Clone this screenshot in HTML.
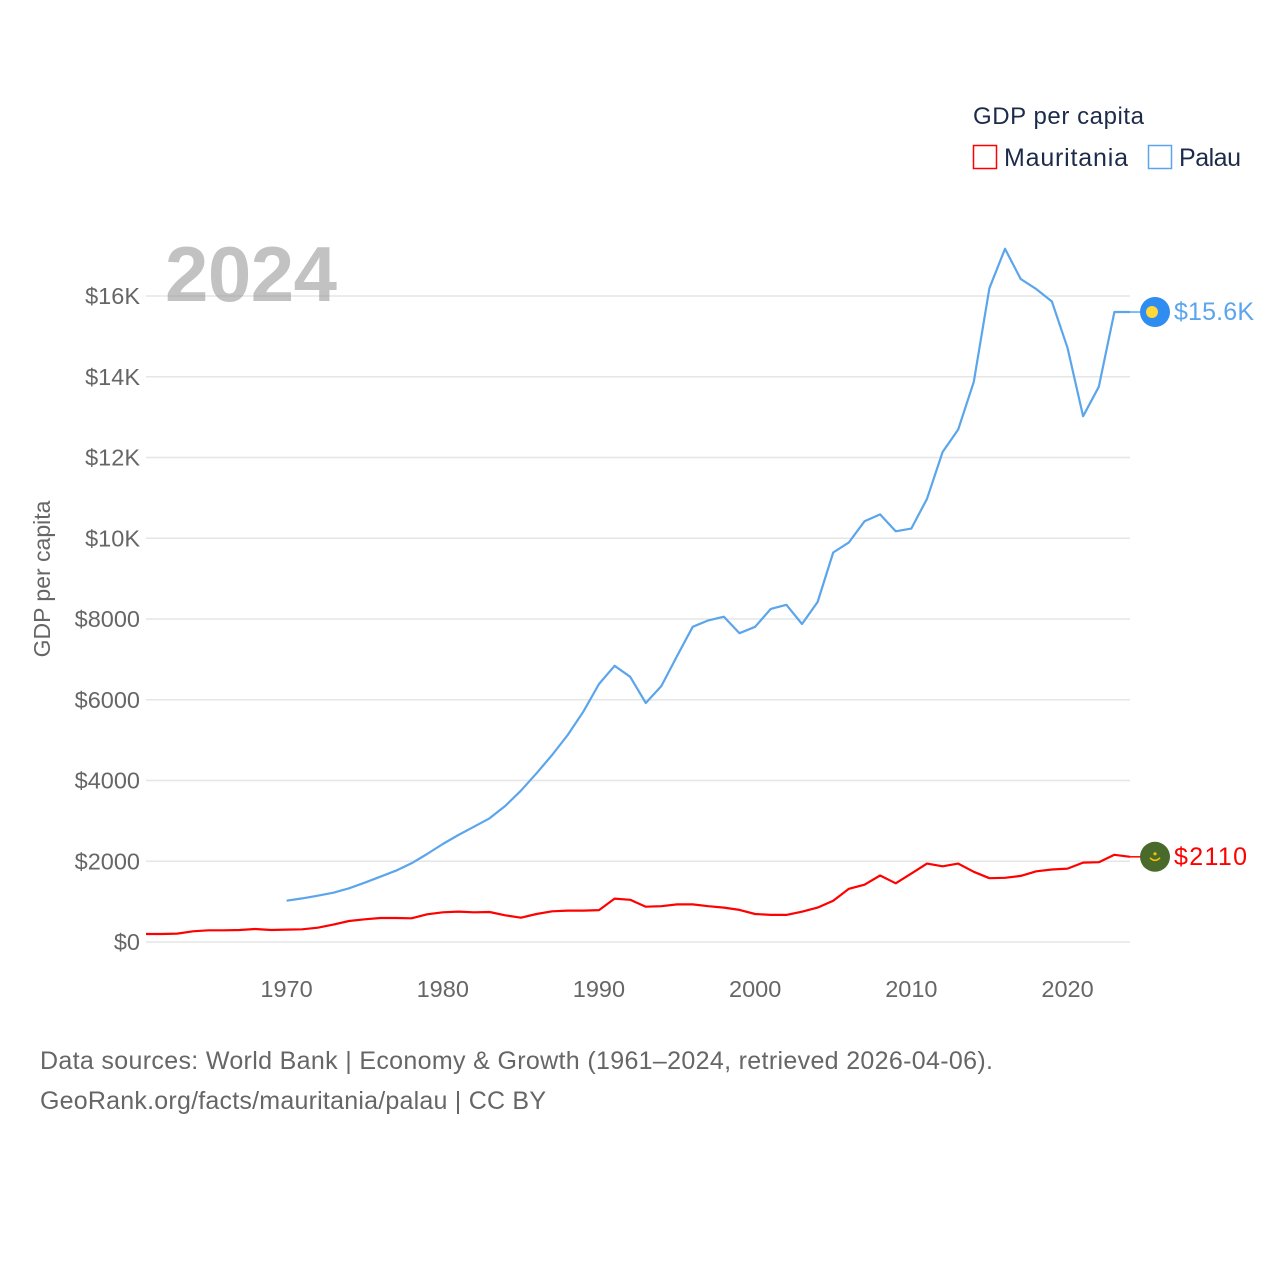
<!DOCTYPE html>
<html><head><meta charset="utf-8"><style>
html,body{margin:0;padding:0;background:#fff;}
body{width:1280px;height:1280px;overflow:hidden;font-family:"Liberation Sans",sans-serif;}
</style></head><body>
<svg id="chart" width="1280" height="1280" xmlns="http://www.w3.org/2000/svg" font-family="Liberation Sans, sans-serif">
  <text x="973" y="124" font-size="24" fill="#1d2b4a" textLength="171">GDP per capita</text>
  <rect x="973.5" y="145.5" width="23" height="23" fill="none" stroke="#ff0000" stroke-width="1.5"/>
  <text x="1004" y="166" font-size="25" fill="#1d2b4a" textLength="124">Mauritania</text>
  <rect x="1148.5" y="145.5" width="23" height="23" fill="none" stroke="#5aa5ec" stroke-width="1.5"/>
  <text x="1179" y="166" font-size="25" fill="#1d2b4a" textLength="62">Palau</text>
  <g id="grid"></g>
  <text x="165" y="301" font-size="78" font-weight="bold" fill="#999" fill-opacity="0.6" textLength="172">2024</text>
  <g id="series"></g>
  <text transform="translate(50,579) rotate(-90)" text-anchor="middle" font-size="23" fill="#666">GDP per capita</text>
  <text x="40" y="1069" font-size="25" fill="#666" textLength="953">Data sources: World Bank | Economy &amp; Growth (1961–2024, retrieved 2026-04-06).</text>
  <text x="40" y="1109" font-size="25" fill="#666" textLength="506">GeoRank.org/facts/mauritania/palau | CC BY</text>
</svg>
<script>
const yTicks = [0, 2000, 4000, 6000, 8000, 10000, 12000, 14000, 16000];
const yTickLabels = ["$0", "$2000", "$4000", "$6000", "$8000", "$10K", "$12K", "$14K", "$16K"];
const xTicks = [1970, 1980, 1990, 2000, 2010, 2020];
const mauritaniaYears = [1961,1962,1963,1964,1965,1966,1967,1968,1969,1970,1971,1972,1973,1974,1975,1976,1977,1978,1979,1980,1981,1982,1983,1984,1985,1986,1987,1988,1989,1990,1991,1992,1993,1994,1995,1996,1997,1998,1999,2000,2001,2002,2003,2004,2005,2006,2007,2008,2009,2010,2011,2012,2013,2014,2015,2016,2017,2018,2019,2020,2021,2022,2023,2024];
const mauritaniaValues = [198,198,207,264,289,289,298,322,298,306,314,355,430,521,562,595,595,587,686,736,752,736,744,661,603,694,760,777,777,790,1074,1045,875,886,932,932,886,852,795,693,670,670,750,852,1023,1318,1420,1648,1455,1693,1943,1875,1943,1739,1580,1591,1636,1750,1795,1818,1966,1977,2159,2110];
const palauYears = [1970,1971,1972,1973,1974,1975,1976,1977,1978,1979,1980,1981,1982,1983,1984,1985,1986,1987,1988,1989,1990,1991,1992,1993,1994,1995,1996,1997,1998,1999,2000,2001,2002,2003,2004,2005,2006,2007,2008,2009,2010,2011,2012,2013,2014,2015,2016,2017,2018,2019,2020,2021,2022,2023,2024];
const palauValues = [1023,1080,1147,1222,1329,1469,1618,1766,1948,2180,2427,2650,2856,3063,3368,3748,4178,4632,5127,5705,6390,6840,6568,5920,6341,7080,7807,7966,8057,7648,7807,8250,8352,7875,8420,9648,9898,10421,10591,10171,10239,10977,12137,12694,13875,16193,17170,16421,16171,15864,14716,13023,13750,15603,15603];
const endLabels = ["$2110", "$15.6K"];

const NS = "http://www.w3.org/2000/svg";
const X0 = 146, X1 = 1130, Y0 = 942, Y16 = 296;
function xs(yr){ return X0 + (yr - 1961) * (X1 - X0) / (2024 - 1961); }
function ys(v){ return Y0 - v * (Y0 - Y16) / 16000; }
function mk(tag, attrs, parent){ const e = document.createElementNS(NS, tag); for (const k in attrs) e.setAttribute(k, attrs[k]); parent.appendChild(e); return e; }

const grid = document.getElementById('grid');
yTicks.forEach((t, i) => {
  const l = mk('line', {x1: X0, x2: X1, y1: ys(t), y2: ys(t), stroke: '#e6e6e6', 'stroke-width': 1.5}, grid);
  
  
  const tx = mk('text', {x: 140, y: ys(t) + 8, 'text-anchor': 'end', 'font-size': 23.5, fill: '#666'}, grid);
  tx.textContent = yTickLabels[i];
  
  
});
xTicks.forEach(t => {
  const tx = mk('text', {x: xs(t), y: 997, 'text-anchor': 'middle', 'font-size': 23.5, fill: '#666'}, grid);
  tx.textContent = t;
  
  
});

const ser = document.getElementById('series');
function line(years, vals, color, name){
  const d = years.map((y, i) => (i ? 'L' : 'M') + xs(y).toFixed(1) + ',' + ys(vals[i]).toFixed(1)).join('');
  const p = mk('path', {d: d, fill: 'none', stroke: color, 'stroke-width': 2.2, 'stroke-linejoin': 'round'}, ser);
  
  
}
line(palauYears, palauValues, '#5aa5ec', 'palau-line');
line(mauritaniaYears, mauritaniaValues, '#ff0000', 'mauritania-line');

const pv = palauValues[palauValues.length - 1], py = ys(pv);
const pc = mk('line', {x1: X1, x2: 1141, y1: py, y2: py, stroke: '#5aa5ec', 'stroke-width': 1.5}, ser);


const pf = mk('circle', {cx: 1155, cy: py, r: 15, fill: '#2f8cf0'}, ser);


const pd = mk('circle', {cx: 1152, cy: py, r: 6, fill: '#ffd83a'}, ser);


const pl = mk('text', {x: 1174, y: py + 8, 'font-size': 25, fill: '#5aa5ec', textLength: 80}, ser);
pl.textContent = endLabels[1];



const mv = mauritaniaValues[mauritaniaValues.length - 1], my = ys(mv);
const mc = mk('line', {x1: X1, x2: 1141, y1: my, y2: my, stroke: '#ff0000', 'stroke-width': 1.5}, ser);


const mf = mk('circle', {cx: 1155, cy: my, r: 15, fill: '#4a6a2c'}, ser);


const mm = mk('path', {d: `M1150,${my+1} Q1155,${my+6} 1160,${my+1}`, fill: 'none', stroke: '#f2c500', 'stroke-width': 1.6}, ser);


const ms = mk('circle', {cx: 1155, cy: my - 3, r: 1.6, fill: '#f2c500'}, ser);


const ml = mk('text', {x: 1174, y: my + 8, 'font-size': 25, fill: '#ff0000', textLength: 73}, ser);
ml.textContent = endLabels[0];


</script>
</body></html>
